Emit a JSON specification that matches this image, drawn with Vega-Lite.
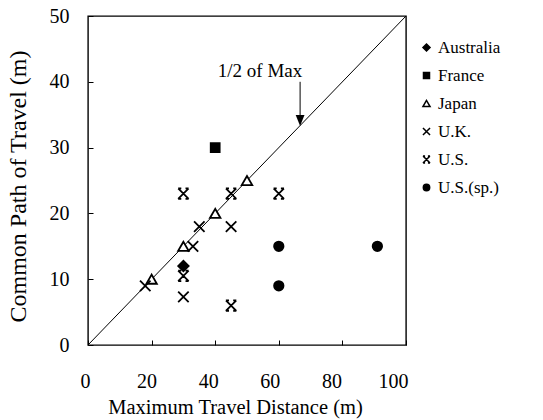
{
  "$schema": "https://vega.github.io/schema/vega-lite/v6.json",
  "width": 318,
  "height": 329,
  "autosize": {"type": "none"},
  "padding": {"left": 88, "top": 16, "right": 137, "bottom": 75},
  "background": "white",
  "config": {
    "view": {"stroke": "black", "strokeWidth": 1.4},
    "font": "Liberation Serif",
    "axis": {
      "domain": false,
      "grid": false,
      "tickColor": "black",
      "tickSize": -5,
      "tickWidth": 1,
      "labelFont": "Liberation Serif",
      "labelFontSize": 20,
      "labelColor": "black",
      "labelFlush": false,
      "labelOverlap": false,
      "titleFont": "Liberation Serif",
      "titleFontWeight": "normal",
      "titleColor": "black"
    }
  },
  "layer": [
    {
      "data": {"values": [{"x": 0, "y": 0}, {"x": 100, "y": 50}]},
      "mark": {"type": "line", "color": "black", "strokeWidth": 1},
      "encoding": {
        "x": {"field": "x", "type": "quantitative", "scale": {"domain": [0, 100], "nice": false},
          "axis": {"values": [0, 20, 40, 60, 80, 100], "title": "Maximum Travel Distance (m)", "titleFontSize": 20.5, "titleX": 147, "titleY": 68, "titleBaseline": "alphabetic", "titleAlign": "center", "labelPadding": 31, "labelOffset": {"expr": "-3 - datum.value * 0.1"}}},
        "y": {"field": "y", "type": "quantitative", "scale": {"domain": [0, 50], "nice": false},
          "axis": {"values": [0, 10, 20, 30, 40, 50], "title": "Common Path of Travel (m)", "titleFontSize": 24, "titleX": -63, "titleY": 170, "titleAngle": -90, "titleAlign": "center", "titleBaseline": "alphabetic", "labelPadding": 24}}
      }
    },
    {
      "data": {"values": [
        {"country": "Australia", "x": 30, "y": 12},
        {"country": "France", "x": 40, "y": 30},
        {"country": "Japan", "x": 20, "y": 10},
        {"country": "Japan", "x": 30, "y": 15},
        {"country": "Japan", "x": 40, "y": 20},
        {"country": "Japan", "x": 50, "y": 25},
        {"country": "U.K.", "x": 18, "y": 9},
        {"country": "U.K.", "x": 33, "y": 15},
        {"country": "U.K.", "x": 35, "y": 18},
        {"country": "U.K.", "x": 45, "y": 18},
        {"country": "U.K.", "x": 30, "y": 7.3},
        {"country": "U.S.", "x": 30, "y": 23},
        {"country": "U.S.", "x": 45, "y": 23},
        {"country": "U.S.", "x": 60, "y": 23},
        {"country": "U.S.", "x": 30, "y": 10.5},
        {"country": "U.S.", "x": 45, "y": 6},
        {"country": "U.S.(sp.)", "x": 60, "y": 15},
        {"country": "U.S.(sp.)", "x": 91, "y": 15},
        {"country": "U.S.(sp.)", "x": 60, "y": 9}
      ]},
      "mark": {"type": "point", "filled": true, "strokeWidth": 1.8, "opacity": 1, "size": 110},
      "encoding": {
        "x": {"field": "x", "type": "quantitative"},
        "y": {"field": "y", "type": "quantitative"},
        "shape": {"field": "country", "type": "nominal",
          "scale": {"domain": ["Australia", "France", "Japan", "U.K.", "U.S.", "U.S.(sp.)"],
            "range": ["diamond", "M-0.85,-0.85H0.85V0.85H-0.85Z", "triangle-up", "M-1,-1L1,1M-1,1L1,-1", "M-1,-1L1,1M-1,1L1,-1M-1,-1H-0.4M0.4,-1H1M-1,1H-0.4M0.4,1H1", "M-0.9,0A0.9,0.9,0,1,0,0.9,0A0.9,0.9,0,1,0,-0.9,0Z"]},
          "legend": {"orient": "none", "legendX": 330, "legendY": 23, "padding": 0, "title": null, "symbolSize": 50, "symbolStrokeWidth": 1.5, "labelFont": "Liberation Serif", "labelFontSize": 17, "labelColor": "black", "labelOffset": 3, "rowPadding": 10}},
        "fill": {"field": "country", "type": "nominal",
          "scale": {"domain": ["Australia", "France", "Japan", "U.K.", "U.S.", "U.S.(sp.)"],
            "range": ["black", "black", "white", "black", "black", "black"]},
          "legend": {"orient": "none", "legendX": 330, "legendY": 23, "padding": 0, "title": null, "symbolSize": 50, "symbolStrokeWidth": 1.5, "labelFont": "Liberation Serif", "labelFontSize": 17, "labelColor": "black", "labelOffset": 3, "rowPadding": 10}},
        "stroke": {"field": "country", "type": "nominal",
          "scale": {"domain": ["Australia", "France", "Japan", "U.K.", "U.S.", "U.S.(sp.)"],
            "range": ["black", "black", "black", "black", "black", "black"]},
          "legend": {"orient": "none", "legendX": 330, "legendY": 23, "padding": 0, "title": null, "symbolSize": 50, "symbolStrokeWidth": 1.5, "labelFont": "Liberation Serif", "labelFontSize": 17, "labelColor": "black", "labelOffset": 3, "rowPadding": 10}}
      }
    },
    {
      "data": {"values": [{"x": 66.7, "y": 40, "y2": 34}]},
      "mark": {"type": "rule", "color": "black", "strokeWidth": 1},
      "encoding": {
        "x": {"field": "x", "type": "quantitative"},
        "y": {"field": "y", "type": "quantitative"},
        "y2": {"field": "y2"}
      }
    },
    {
      "data": {"values": [{"x": 66.7, "y": 34.1}]},
      "mark": {"type": "point", "shape": "M0,1L-0.8,-1L0.8,-1Z", "size": 121, "filled": true, "color": "black", "opacity": 1},
      "encoding": {
        "x": {"field": "x", "type": "quantitative"},
        "y": {"field": "y", "type": "quantitative"}
      }
    },
    {
      "data": {"values": [{"x": 54.1, "y": 40.7, "label": "1/2 of Max"}]},
      "mark": {"type": "text", "font": "Liberation Serif", "fontSize": 19, "color": "black", "align": "center", "baseline": "alphabetic"},
      "encoding": {
        "x": {"field": "x", "type": "quantitative"},
        "y": {"field": "y", "type": "quantitative"},
        "text": {"field": "label"}
      }
    }
  ]
}
